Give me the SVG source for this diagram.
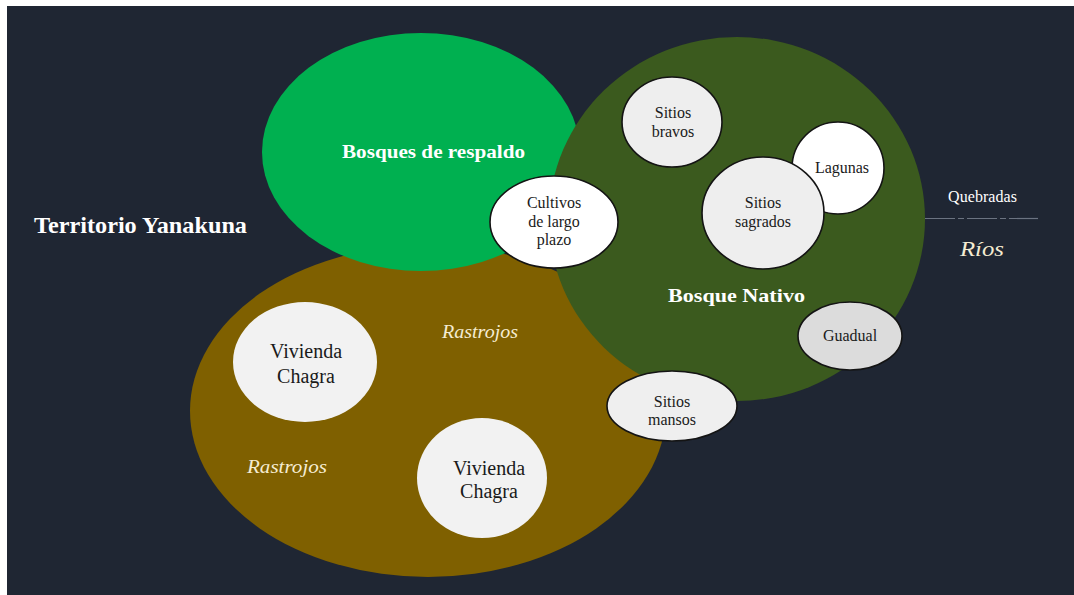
<svg xmlns="http://www.w3.org/2000/svg" width="1074" height="595" viewBox="0 0 1074 595">
  <style>
    .zone-label { font-family: "Liberation Serif", "Times New Roman", serif; fill: #ffffff; }
    .bold { font-weight: bold; }
    .ital { font-style: italic; fill: #f5ecd2; }
    .node-text { font-family: "Liberation Serif", "Times New Roman", serif; font-size: 16px; fill: #1a1a1a; text-anchor: middle; }
    .big-text { font-size: 20px; }
    .node { stroke: #141414; stroke-width: 1.6; }
    .plain { stroke: none; }
  </style>

  <!-- page and dark panel -->
  <rect x="0" y="0" width="1074" height="595" fill="#ffffff"/>
  <rect x="7" y="6" width="1067" height="589" fill="#1f2633"/>

  <!-- land-use zones -->
  <g id="zone-rastrojos">
    <ellipse cx="428" cy="411" rx="238" ry="166" fill="#7f6000"/>
  </g>
  <g id="zone-bosques-respaldo">
    <ellipse cx="421" cy="152" rx="159" ry="119" fill="#00b050"/>
  </g>
  <g id="zone-bosque-nativo">
    <ellipse cx="737" cy="219" rx="188" ry="182" fill="#3b5a1e"/>
  </g>

  <!-- zone labels -->
  <text class="zone-label bold" x="34" y="233" font-size="23" textLength="213" lengthAdjust="spacingAndGlyphs">Territorio Yanakuna</text>
  <text class="zone-label bold" x="342" y="158" font-size="19" textLength="183" lengthAdjust="spacingAndGlyphs">Bosques de respaldo</text>
  <text class="zone-label bold" x="668" y="302" font-size="19" textLength="137" lengthAdjust="spacingAndGlyphs">Bosque Nativo</text>
  <text class="zone-label ital" x="442" y="338" font-size="18.5" textLength="76" lengthAdjust="spacingAndGlyphs">Rastrojos</text>
  <text class="zone-label ital" x="247" y="473" font-size="18.5" textLength="80" lengthAdjust="spacingAndGlyphs">Rastrojos</text>

  <!-- water courses -->
  <text class="zone-label" x="948" y="202" font-size="16" textLength="69" lengthAdjust="spacing">Quebradas</text>
  <g id="connectors">
    <line x1="925" y1="218.5" x2="1038" y2="218.5" stroke="#6b7381" stroke-width="1.2" stroke-dasharray="30 3 6 3"/>
  </g>
  <text class="zone-label ital" x="960" y="256" font-size="22" textLength="44" lengthAdjust="spacingAndGlyphs" fill="#f2f2f2">Ríos</text>

  <!-- places -->
  <g id="vivienda-chagra-1">
    <ellipse class="plain" cx="305" cy="362" rx="72" ry="60" fill="#f2f2f2"/>
    <text class="node-text big-text" x="306" y="358">Vivienda</text>
    <text class="node-text big-text" x="306" y="383">Chagra</text>
  </g>
  <g id="vivienda-chagra-2">
    <ellipse class="plain" cx="482" cy="478" rx="65" ry="60" fill="#f2f2f2"/>
    <text class="node-text big-text" x="489" y="475">Vivienda</text>
    <text class="node-text big-text" x="489" y="498">Chagra</text>
  </g>
  <g id="cultivos-largo-plazo">
    <ellipse class="node" cx="554" cy="222" rx="64" ry="46" fill="#ffffff"/>
    <text class="node-text" x="554" y="208">Cultivos</text>
    <text class="node-text" x="554" y="227">de largo</text>
    <text class="node-text" x="554" y="245">plazo</text>
  </g>
  <g id="sitios-bravos">
    <ellipse class="node" cx="672" cy="122" rx="50" ry="45" fill="#eeeeee"/>
    <text class="node-text" x="673" y="118">Sitios</text>
    <text class="node-text" x="673" y="137">bravos</text>
  </g>
  <g id="lagunas">
    <ellipse class="node" cx="838" cy="168" rx="46" ry="46" fill="#ffffff"/>
    <text class="node-text" x="842" y="173">Lagunas</text>
  </g>
  <g id="sitios-sagrados">
    <ellipse class="node" cx="763" cy="213" rx="61" ry="56" fill="#eeeeee"/>
    <text class="node-text" x="763" y="208">Sitios</text>
    <text class="node-text" x="763" y="227">sagrados</text>
  </g>
  <g id="guadual">
    <ellipse class="node" cx="850" cy="336" rx="52" ry="34" fill="#dcdcdc"/>
    <text class="node-text" x="850" y="341">Guadual</text>
  </g>
  <g id="sitios-mansos">
    <ellipse class="node" cx="672" cy="406" rx="65" ry="35" fill="#efefef"/>
    <text class="node-text" x="672" y="407">Sitios</text>
    <text class="node-text" x="672" y="425">mansos</text>
  </g>
</svg>
